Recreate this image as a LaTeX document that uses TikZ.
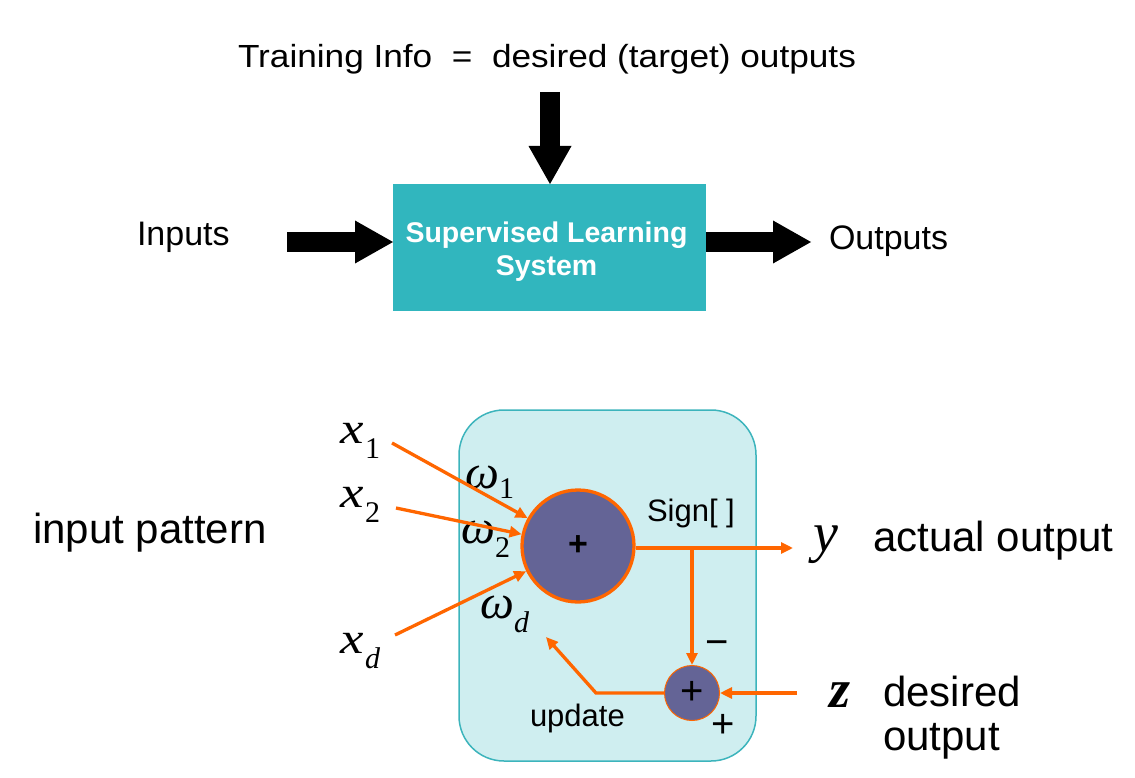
\documentclass[tikz,border=0pt]{standalone}
\usepackage{fontspec}
\setmainfont{Liberation Sans}
\newfontfamily\tms{Liberation Serif}
\usetikzlibrary{arrows.meta,calc}
\definecolor{tealbox}{RGB}{49,182,190}
\definecolor{lightcyan}{RGB}{207,238,240}
\definecolor{cyanedge}{RGB}{60,180,188}
\definecolor{orng}{RGB}{255,102,0}
\definecolor{slate}{RGB}{100,100,150}
\newcommand\setfs[1]{\fontsize{#1}{#1}\selectfont}
\begin{document}
\begin{tikzpicture}[x=1pt,y=-1pt,
  lbl/.style={anchor=base west, inner sep=0pt, outer sep=0pt},
  oarr/.style={draw=orng, line width=3.3pt, -{Triangle[length=12pt,width=11pt]}},
  blk/.style={draw=black, line width=20pt, -{Triangle[length=38pt,width=43pt,line width=0pt]}}]
\useasboundingbox (0,0) rectangle (1135,778);
\fill[white] (0,0) rectangle (1135,778);

% ---------- top block diagram ----------
\node[lbl] (train) at (238,67.5) {\setfs{32}\scalebox{1.1}[1]{Training Info \ = \ desired (target) outputs}};
\node[fill=tealbox, minimum width=313pt, minimum height=127pt, inner sep=0pt, outer sep=0pt] (sls) at (549.5,247.5) {};
\node[text=white, align=center, inner sep=0pt, font=\bfseries\fontsize{28.5}{33}\selectfont] (slt) at (546.5,252)
      {Supervised Learning\\System};
\node[lbl] (inputs) at (137,246) {\setfs{34}Inputs};
\node[lbl] (outputs) at (829,249.5) {\setfs{34}Outputs};

\coordinate (tstart) at (550,92);
\draw[blk] (tstart) -- (tstart |- sls.north);
\coordinate (istart) at (287,242);
\draw[blk] (istart) -- (istart -| sls.west);
\coordinate (oend) at (811,242);
\draw[blk] (oend -| sls.east) -- (oend);

% ---------- bottom neuron ----------
\node[draw=cyanedge, line width=1.5pt, fill=lightcyan, rounded corners=45pt,
      minimum width=297pt, minimum height=351pt, inner sep=0pt] (unit) at (607.5,585.5) {};

\node[circle, draw=orng, line width=3.3pt, fill=slate, minimum size=112pt, inner sep=0pt,
      font=\bfseries\setfs{34}] (big) at (578,546) {+};
\node[circle, draw=orng, line width=1pt, fill=slate, minimum size=55pt, inner sep=0pt,
      font=\setfs{40}] (small) at (692,693) {+};

\node[lbl] (inpat) at (33,543) {\setfs{42}input pattern};
\node[lbl] (actout) at (873,551) {\setfs{42}actual output};
\node[lbl] (desout) at (883,706.7) {\setfs{42}desired};
\node[lbl] (desout2) at (883,750) {\setfs{42}output};
\node[lbl] (sign) at (647,521.7) {\setfs{31}Sign[ ]};
\node[lbl] (upd) at (530,726.7) {\setfs{31}update};
\node[lbl] (minus) at (705,655) {\setfs{40}\char"2212};
\node[lbl] (plus) at (711,737) {\setfs{40}+};

\node[lbl] (ylab) at (813,551) {\tms\itshape\setfs{56}y};
\node[lbl] (zlab) at (829,707) {\tms\bfseries\itshape\setfs{54}z};

\node[lbl] (x1) at (340,443) {\tms\itshape\setfs{44}\scalebox{1.2}[1]{x}};
\node[lbl] (x1s) at (365,458) {\tms\setfs{30}1};
\node[lbl] (x2) at (340,507) {\tms\itshape\setfs{44}\scalebox{1.2}[1]{x}};
\node[lbl] (x2s) at (365,522) {\tms\setfs{30}2};
\node[lbl] (xd) at (340,653) {\tms\itshape\setfs{44}\scalebox{1.2}[1]{x}};
\node[lbl] (xds) at (365,668) {\tms\itshape\setfs{30}d};

\node[lbl] (w1) at (465,488) {\tms\itshape\setfs{48}\char"03C9};
\node[lbl] (w1s) at (499,498) {\tms\setfs{30}1};
\node[lbl] (w2) at (461,543) {\tms\itshape\setfs{48}\char"03C9};
\node[lbl] (w2s) at (495,557) {\tms\setfs{30}2};
\node[lbl] (wd) at (480,618) {\tms\itshape\setfs{48}\char"03C9};
\node[lbl] (wds) at (514,632) {\tms\itshape\setfs{30}d};

\coordinate (s1) at (392,443);
\coordinate (s2) at (396,508);
\coordinate (sd) at (395,635);
\draw[oarr] (s1) -- (big);
\draw[oarr] (s2) -- (big);
\draw[oarr] (sd) -- (big);

\coordinate (yend) at (793,548);
\draw[oarr] (big.east |- yend) -- (yend);
\coordinate (junc) at (small.north |- yend);
\draw[oarr] (junc) -- (small.north);
\coordinate (zstart) at (797,693);
\draw[oarr] (zstart) -- (small.east);
\coordinate (fbk) at (596,693);
\coordinate (wtip) at (546,637);
\draw[oarr] (small.west) -- (fbk) -- (wtip);
\end{tikzpicture}
\end{document}
